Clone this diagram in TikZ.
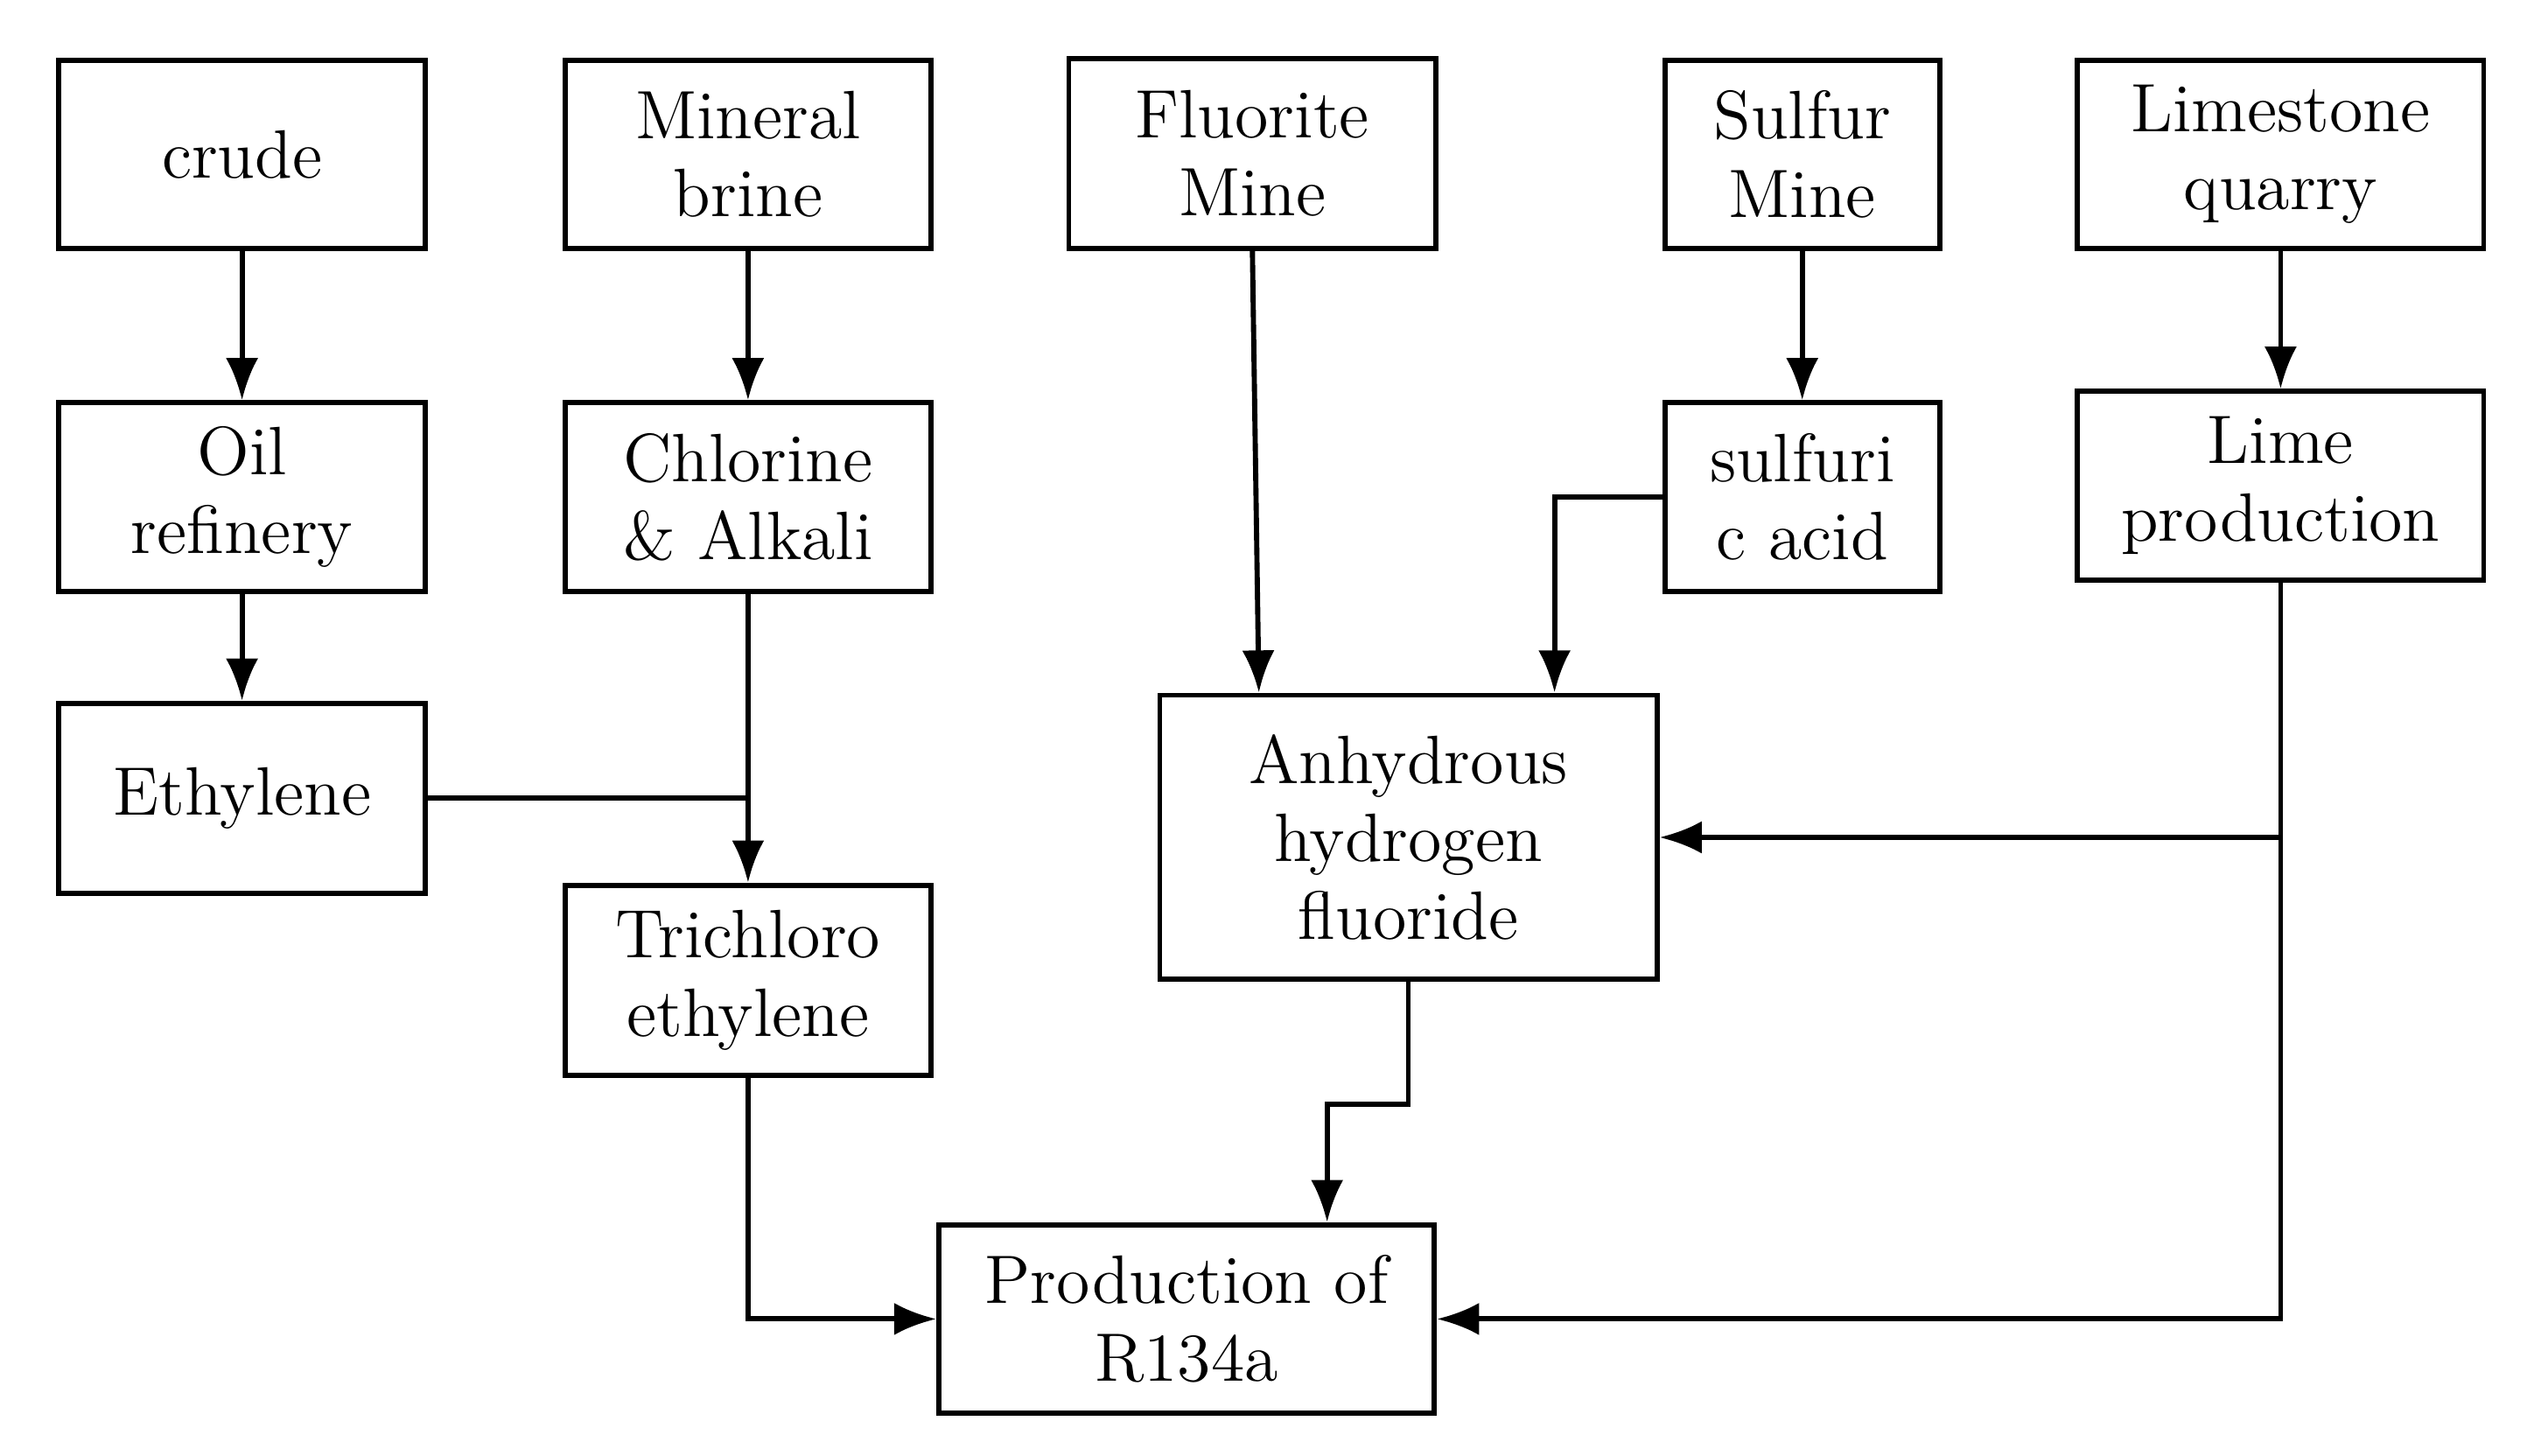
\documentclass[tikz,border=0pt]{standalone}
\usetikzlibrary{arrows.meta}
\begin{document}
\begin{tikzpicture}[
  box/.style={draw, line width=0.9pt, align=center, inner sep=0pt, font=\fontsize{12}{13.7}\selectfont},
  arr/.style={line width=0.9pt, -{Latex[length=0.26cm,width=0.2cm]}},
  ln/.style={line width=0.9pt}]
\useasboundingbox (0,0) rectangle (15.6,-8.96);
\node[box, minimum width=2.26cm, minimum height=1.16cm] (crude) at (1.49,-0.95) {crude};
\node[box, minimum width=2.25cm, minimum height=1.16cm] (brine) at (4.605,-0.95) {Mineral\\brine};
\node[box, minimum width=2.26cm, minimum height=1.17cm] (fluor) at (7.71,-0.945) {Fluorite\\Mine};
\node[box, minimum width=1.69cm, minimum height=1.16cm] (sulfur) at (11.095,-0.95) {Sulfur\\Mine};
\node[box, minimum width=2.50cm, minimum height=1.16cm] (limeq) at (14.04,-0.95) {Limestone\\quarry};
\node[box, minimum width=2.26cm, minimum height=1.16cm] (oil) at (1.49,-3.06) {Oil\\refinery};
\node[box, minimum width=2.25cm, minimum height=1.16cm] (chlor) at (4.605,-3.06) {Chlorine\\\& Alkali};
\node[box, minimum width=1.69cm, minimum height=1.16cm] (sacid) at (11.095,-3.06) {sulfuri\\c acid};
\node[box, minimum width=2.50cm, minimum height=1.16cm] (limep) at (14.04,-2.99) {Lime\\production};
\node[box, minimum width=2.26cm, minimum height=1.17cm] (eth) at (1.49,-4.915) {Ethylene};
\node[box, minimum width=2.25cm, minimum height=1.17cm] (tri) at (4.605,-6.035) {Trichloro\\ethylene};
\node[box, minimum width=3.06cm, minimum height=1.75cm] (anh) at (8.67,-5.155) {Anhydrous\\hydrogen\\fluoride};
\node[box, minimum width=3.05cm, minimum height=1.16cm] (prod) at (7.305,-8.12) {Production of\\R134a};
\draw[arr] (crude) -- (oil);
\draw[arr] (oil) -- (eth);
\draw[arr] (brine) -- (chlor);
\draw[arr] (sulfur) -- (sacid);
\draw[arr] (limeq.south) -- (limep.north);
\draw[arr] (fluor.south) -- ([xshift=-0.92cm]anh.north);
\draw[arr] (sacid.west) -| ([xshift=0.9cm]anh.north);
\draw[arr] (limep.south) |- (prod.east);
\draw[arr] (limep.south |- anh.east) -- (anh.east);
\draw[ln] (eth.east) -- (eth.east -| chlor.south);
\draw[arr] (chlor) -- (tri);
\draw[arr] (tri.south) |- (prod.west);
\draw[arr] (anh.south) -- ++(0,-0.75) -| ([xshift=0.865cm]prod.north);
\end{tikzpicture}
\end{document}
